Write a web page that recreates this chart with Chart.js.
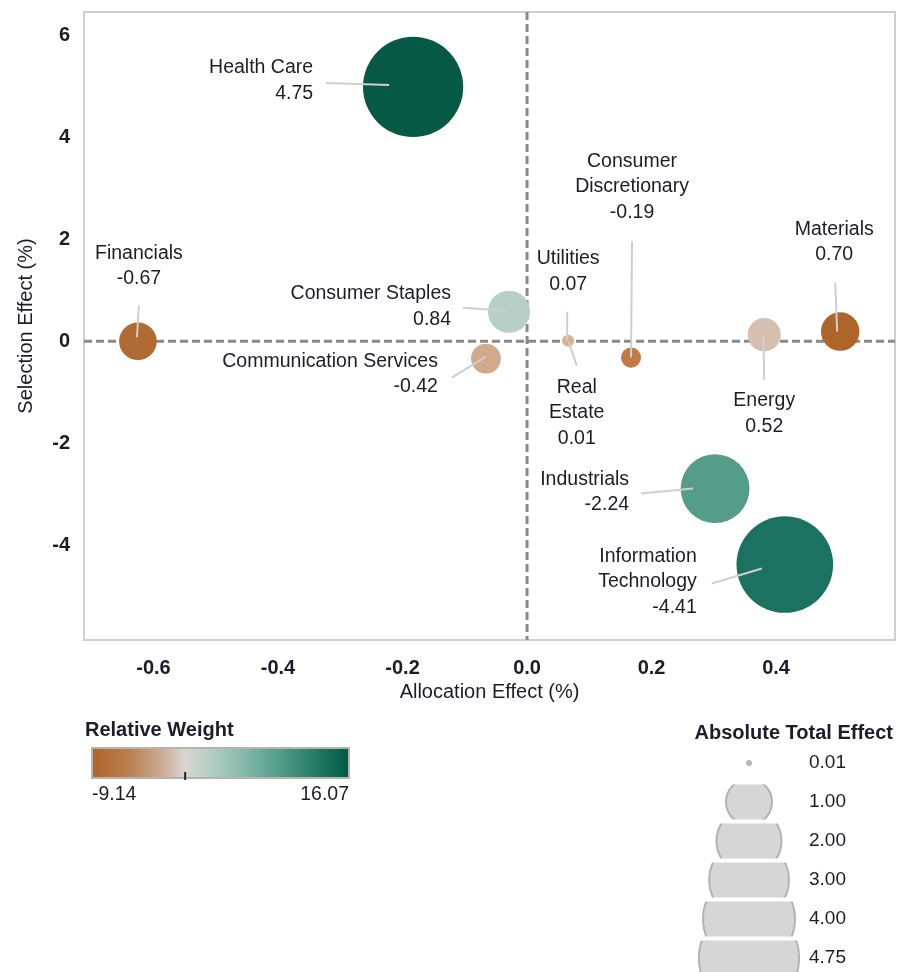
<!DOCTYPE html>
<html>
<head>
<meta charset="utf-8">
<script src="https://cdn.jsdelivr.net/npm/chart.js@4.4.1/dist/chart.umd.min.js"></script>
<style>
    html, body { margin: 0; padding: 0; background: #fff; }
    #wrap { width: 899px; height: 972px; }
</style>
</head>
<body>
<div id="wrap"><canvas id="attribution-chart" width="899" height="972"></canvas></div>
<script>
// Sector data
const sectors = ['Health Care', 'Financials', 'Consumer Staples', 'Communication Services', 'Utilities',
    'Consumer Discretionary', 'Materials', 'Real Estate', 'Energy', 'Industrials', 'Information Technology'];
const allocationEffect = [-0.183, -0.625, -0.029, -0.066, 0.066, 0.167, 0.503, 0.067, 0.381, 0.302, 0.414];
const selectionEffect = [4.99, 0.00, 0.58, -0.34, 0.01, -0.32, 0.19, -0.02, 0.13, -2.89, -4.38];
const totalEffect = [4.75, -0.67, 0.84, -0.42, 0.07, -0.19, 0.70, 0.01, 0.52, -2.24, -4.41];

// Axis ticks
const xTicks = [-0.6, -0.4, -0.2, 0.0, 0.2, 0.4];
const xTickLabels = ['-0.6', '-0.4', '-0.2', '0.0', '0.2', '0.4'];
const yTicks = [-4, -2, 0, 2, 4, 6];
const yTickLabels = ['-4', '-2', '0', '2', '4', '6'];

// Legends
const weightRange = [-9.14, 16.07];
const weightRangeLabels = ['-9.14', '16.07'];
const sizeLegendValues = [0.01, 1.00, 2.00, 3.00, 4.00, 4.75];
const sizeLegendLabels = ['0.01', '1.00', '2.00', '3.00', '4.00', '4.75'];

// Bubble fill colours (relative weight shading)
const bubbleColors = ['#065a45', '#b06a33', '#b8cfc8', '#d1a98b', '#d8b394', '#bf7a47',
    '#ae6529', '#d2b09a', '#d5bfae', '#569d89', '#1c7260'];

// Label layout: offsets from bubble centre in px
const labelLayout = [
    { dx: -100, dy: -19, align: 'right', from: [-87, -4], to: [-24, -2], lines: ['Health Care'] },
    { dx: 1, dy: -88, align: 'center', from: [1, -36], to: [-1, -4], lines: ['Financials'] },
    { dx: -58, dy: -18, align: 'right', from: [-46, -4], to: [-2, -1], lines: ['Consumer Staples'] },
    { dx: -48, dy: 3, align: 'right', from: [-34, 19], to: [0, -2], lines: ['Communication Services'] },
    { dx: 0, dy: -82, align: 'center', from: [-1, -29], to: [-1, 0], lines: ['Utilities'] },
    { dx: 1, dy: -196, align: 'center', from: [1, -116], to: [0, 0], lines: ['Consumer', 'Discretionary'] },
    { dx: -6, dy: -102, align: 'center', from: [-5, -49], to: [-3, 0], lines: ['Materials'] },
    { dx: 8, dy: 45, align: 'center', from: [0, 0], to: [8, 23], lines: ['Real', 'Estate'] },
    { dx: 0, dy: 66, align: 'center', from: [-1, 1], to: [0, 45], lines: ['Energy'] },
    { dx: -86, dy: -9, align: 'right', from: [-74, 5], to: [-22, 0], lines: ['Industrials'] },
    { dx: -88, dy: -8, align: 'right', from: [-73, 19], to: [-23, 4], lines: ['Information', 'Technology'] }
];

const FONT = "'Liberation Sans', Arial, sans-serif";
const TEXT = '#1c1c2a';

function bubbleRadius(v) {
    return 23 * Math.sqrt(Math.abs(v));
}

// Dashed zero lines and frame
const framePlugin = {
    id: 'frame',
    beforeDatasetsDraw(chart) {
        const { ctx, chartArea: a, scales: { x, y } } = chart;
        const x0 = x.getPixelForValue(0);
        const y0 = y.getPixelForValue(0);
        ctx.save();
        ctx.strokeStyle = '#cfcfcf';
        ctx.lineWidth = 2;
        ctx.strokeRect(a.left, a.top, a.right - a.left, a.bottom - a.top);
        ctx.strokeStyle = '#8a8a8a';
        ctx.lineWidth = 3;
        ctx.setLineDash([8, 4]);
        ctx.beginPath();
        ctx.moveTo(x0, a.top);
        ctx.lineTo(x0, a.bottom);
        ctx.moveTo(a.left, y0);
        ctx.lineTo(a.right, y0);
        ctx.stroke();
        ctx.restore();
    }
};

// Sector labels with leader lines
const labelPlugin = {
    id: 'sectorLabels',
    afterDatasetsDraw(chart) {
        const { ctx, scales: { x, y } } = chart;
        ctx.save();
        labelLayout.forEach((lab, i) => {
            const cx = x.getPixelForValue(allocationEffect[i]);
            const cy = y.getPixelForValue(selectionEffect[i]);
            ctx.strokeStyle = '#cfcfcf';
            ctx.lineWidth = 2;
            ctx.beginPath();
            ctx.moveTo(cx + lab.from[0], cy + lab.from[1]);
            ctx.lineTo(cx + lab.to[0], cy + lab.to[1]);
            ctx.stroke();

            ctx.fillStyle = TEXT;
            ctx.font = '19.5px ' + FONT;
            ctx.textAlign = lab.align;
            ctx.textBaseline = 'middle';
            const lines = lab.lines.concat([totalEffect[i].toFixed(2)]);
            lines.forEach((t, k) => {
                ctx.fillText(t, cx + lab.dx, cy + lab.dy + k * 25.5);
            });
        });
        ctx.restore();
    }
};

// Colour bar and size legend
const legendPlugin = {
    id: 'customLegends',
    afterDraw(chart) {
        const ctx = chart.ctx;
        ctx.save();

        // Relative Weight colour bar
        ctx.fillStyle = TEXT;
        ctx.font = 'bold 20px ' + FONT;
        ctx.textAlign = 'left';
        ctx.textBaseline = 'middle';
        ctx.fillText('Relative Weight', 85, 730);

        const bx = 92, by = 748, bw = 257, bh = 30;
        const grad = ctx.createLinearGradient(bx, 0, bx + bw, 0);
        const zeroPos = -weightRange[0] / (weightRange[1] - weightRange[0]);
        grad.addColorStop(0, '#ae6429');
        grad.addColorStop(zeroPos * 0.4, '#bb7f52');
        grad.addColorStop(zeroPos * 0.75, '#ccac94');
        grad.addColorStop(zeroPos, '#d9d6d4');
        grad.addColorStop(zeroPos + (1 - zeroPos) * 0.2, '#a9cbc1');
        grad.addColorStop(zeroPos + (1 - zeroPos) * 0.5, '#62a794');
        grad.addColorStop(zeroPos + (1 - zeroPos) * 0.8, '#237a63');
        grad.addColorStop(1, '#005a43');
        ctx.fillStyle = grad;
        ctx.fillRect(bx, by, bw, bh);
        ctx.strokeStyle = '#b9b3ac';
        ctx.lineWidth = 2;
        ctx.strokeRect(bx, by, bw, bh);
        ctx.strokeStyle = '#222';
        ctx.beginPath();
        ctx.moveTo(bx + bw * zeroPos, by + bh - 6);
        ctx.lineTo(bx + bw * zeroPos, by + bh + 2);
        ctx.stroke();

        ctx.fillStyle = TEXT;
        ctx.font = '19.5px ' + FONT;
        ctx.textAlign = 'left';
        ctx.fillText(weightRangeLabels[0], bx, 795);
        ctx.textAlign = 'right';
        ctx.fillText(weightRangeLabels[1], bx + bw, 795);

        // Absolute Total Effect size legend
        ctx.font = 'bold 20px ' + FONT;
        ctx.textAlign = 'right';
        ctx.fillText('Absolute Total Effect', 893, 733);

        const lx = 749, rowTop = 763, rowGap = 39, half = 17.5;
        sizeLegendValues.forEach((v, k) => {
            const cy = rowTop + k * rowGap;
            const r = Math.max(bubbleRadius(v), 3);
            ctx.save();
            ctx.beginPath();
            ctx.rect(lx - 80, cy - half, 160, half * 2);
            ctx.clip();
            ctx.beginPath();
            ctx.arc(lx, cy, r, 0, Math.PI * 2);
            ctx.fillStyle = k === 0 ? '#b9b9b9' : '#d6d6d6';
            ctx.fill();
            if (k > 0) {
                ctx.strokeStyle = '#b3b3b3';
                ctx.lineWidth = 2;
                ctx.stroke();
            }
            ctx.restore();
            ctx.fillStyle = TEXT;
            ctx.font = '19px ' + FONT;
            ctx.textAlign = 'left';
            ctx.fillText(sizeLegendLabels[k], 809, cy);
        });

        ctx.restore();
    }
};

const ctx = document.getElementById('attribution-chart').getContext('2d');
const attributionChart = new Chart(ctx, {
    type: 'bubble',
    data: {
        datasets: [{
            data: sectors.map((s, i) => ({ x: allocationEffect[i], y: selectionEffect[i], r: bubbleRadius(totalEffect[i]) })),
            backgroundColor: bubbleColors,
            borderWidth: 0,
            hoverRadius: 0
        }]
    },
    options: {
        responsive: false,
        animation: false,
        events: [],
        layout: { autoPadding: false, padding: { left: 0, top: 12, right: 4, bottom: 268 } },
        plugins: {
            legend: { display: false },
            tooltip: { enabled: false }
        },
        scales: {
            x: {
                type: 'linear',
                min: -0.7116,
                max: 0.591,
                afterBuildTicks: s => { s.ticks = xTicks.map(v => ({ value: v })); },
                afterFit: s => { s.height = 64; s.paddingLeft = 0; s.paddingRight = 0; },
                ticks: {
                    callback: (v) => xTickLabels[xTicks.findIndex(t => Math.abs(t - v) < 1e-9)],
                    font: { family: FONT, size: 20, weight: 'bold' },
                    color: TEXT,
                    padding: 16,
                    maxRotation: 0
                },
                grid: { display: false, drawTicks: false },
                border: { display: false },
                title: {
                    display: true,
                    text: 'Allocation Effect (%)',
                    font: { family: FONT, size: 20 },
                    color: TEXT,
                    padding: { top: 0, bottom: 0 }
                }
            },
            y: {
                type: 'linear',
                min: -5.86,
                max: 6.46,
                afterBuildTicks: s => { s.ticks = yTicks.map(v => ({ value: v })); },
                afterFit: s => { s.width = 84; s.paddingTop = 0; s.paddingBottom = 0; },
                ticks: {
                    callback: (v) => yTickLabels[yTicks.indexOf(v)],
                    font: { family: FONT, size: 20, weight: 'bold' },
                    color: TEXT,
                    padding: 14
                },
                grid: { display: false, drawTicks: false },
                border: { display: false },
                title: {
                    display: true,
                    text: 'Selection Effect (%)',
                    font: { family: FONT, size: 20 },
                    color: TEXT,
                    padding: { top: 14, bottom: 0 }
                }
            }
        }
    },
    plugins: [framePlugin, labelPlugin, legendPlugin]
});
</script>
</body>
</html>
